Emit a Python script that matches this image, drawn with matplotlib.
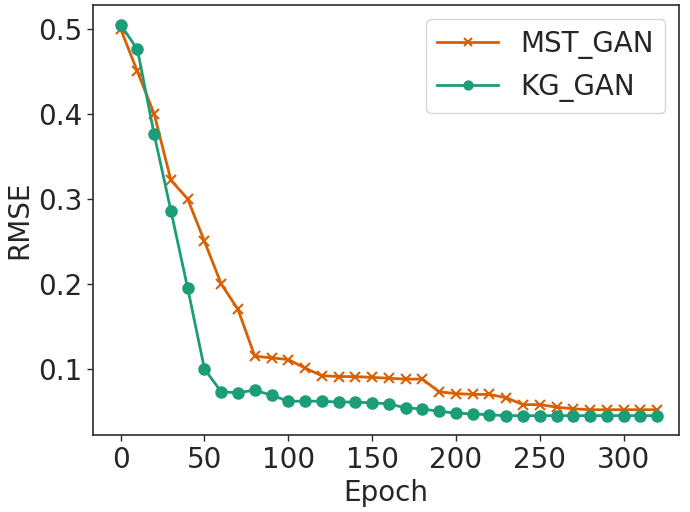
import matplotlib
matplotlib.use("Agg")
import matplotlib.pyplot as plt
import numpy as np

epochs = list(range(0, 321, 10))
mst_gan = [0.500, 0.450, 0.400, 0.322, 0.300, 0.250, 0.200, 0.170, 0.115, 0.113,
           0.111, 0.101, 0.092, 0.091, 0.091, 0.090, 0.089, 0.088, 0.088, 0.073,
           0.071, 0.070, 0.070, 0.066, 0.058, 0.058, 0.055, 0.053, 0.052, 0.052,
           0.052, 0.052, 0.052]
kg_gan = [0.505, 0.476, 0.376, 0.286, 0.195, 0.100, 0.073, 0.072, 0.075, 0.069,
          0.062, 0.062, 0.062, 0.061, 0.061, 0.060, 0.059, 0.054, 0.053, 0.050,
          0.048, 0.047, 0.046, 0.045, 0.045, 0.045, 0.045, 0.045, 0.045, 0.045,
          0.045, 0.045, 0.045]

plt.rcParams['font.family'] = ['DejaVu Sans']
plt.rcParams['text.color'] = '#262626'
plt.rcParams['axes.labelcolor'] = '#262626'
plt.rcParams['xtick.color'] = '#262626'
plt.rcParams['ytick.color'] = '#262626'

fig, ax = plt.subplots(figsize=(6.9, 5.12), dpi=100)
ax.plot(epochs, mst_gan, color='#d95f02', marker='x', markersize=7, markeredgewidth=1.5,
        linewidth=2, label='MST_GAN')
ax.plot(epochs, kg_gan, color='#1b9e77', marker='o', markersize=8, linewidth=2, label='KG_GAN')
ax.set_xlabel('Epoch', fontsize=20)
ax.set_ylabel('RMSE', fontsize=20)
ax.tick_params(labelsize=20, width=1, length=4)
ax.set_xticks([0, 50, 100, 150, 200, 250, 300])
ax.set_yticks([0.1, 0.2, 0.3, 0.4, 0.5])
ax.set_xlim(-16.3, 333)
for s in ax.spines.values():
    s.set_color('#333333')
    s.set_linewidth(1.25)
leg = ax.legend(fontsize=20, loc='upper right', handlelength=2.2, markerscale=0.8,
                borderaxespad=0.5)
leg.get_frame().set_edgecolor('#cccccc')
fig.subplots_adjust(left=0.1352, right=0.984, top=0.990, bottom=0.150)
fig.savefig('out.png', dpi=100)
